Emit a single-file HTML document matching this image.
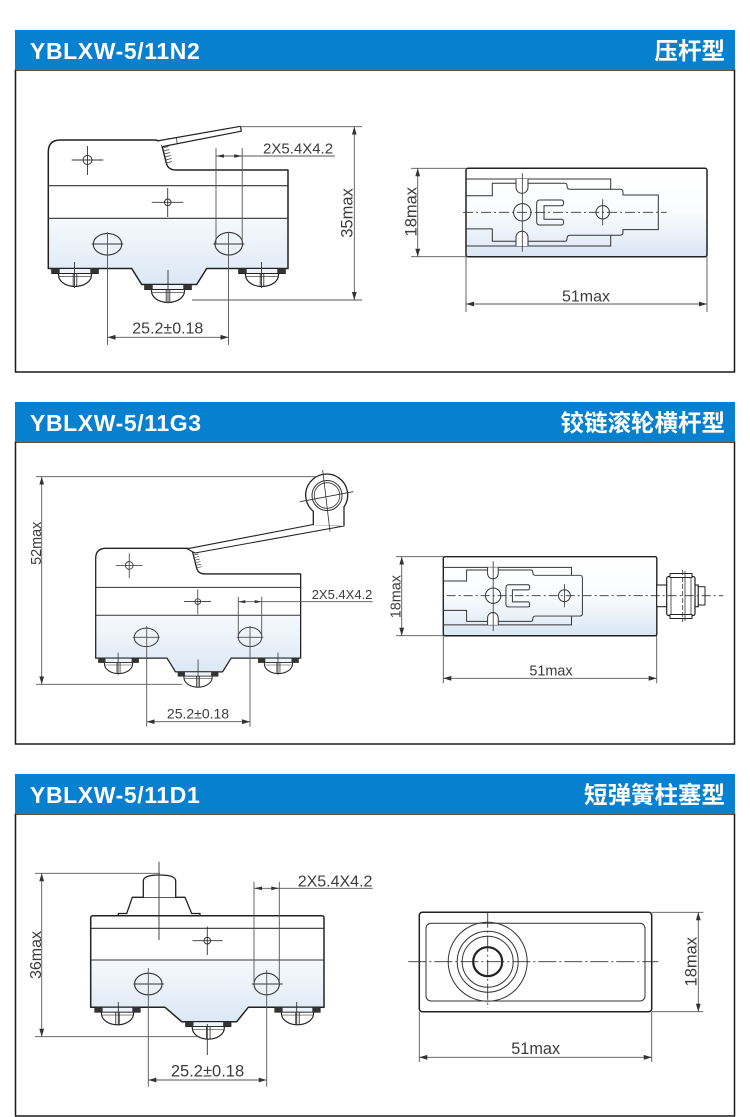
<!DOCTYPE html>
<html><head><meta charset="utf-8"><title>YBLXW-5/11</title>
<style>html,body{margin:0;padding:0;background:#fff;width:750px;height:1117px;overflow:hidden}svg{display:block}</style>
</head><body>
<svg xmlns="http://www.w3.org/2000/svg" width="750" height="1117" viewBox="0 0 750 1117">
<defs>
<linearGradient id="gb" x1="0" y1="0" x2="0" y2="1"><stop offset="0" stop-color="#f6f9fd"/><stop offset="1" stop-color="#dce8f5"/></linearGradient>
<linearGradient id="gr" x1="0" y1="0" x2="0" y2="1"><stop offset="0" stop-color="#ffffff"/><stop offset="0.5" stop-color="#fafcfe"/><stop offset="1" stop-color="#d9e6f4"/></linearGradient>
<marker id="a" viewBox="0 0 8 6" refX="8" refY="3" markerWidth="8" markerHeight="6" markerUnits="userSpaceOnUse" orient="auto-start-reverse"><path d="M0,0.6 L8,3 L0,5.4 Z" fill="#333"/></marker>
<g id="term">
<path d="M-16.5,5 V6.5 A16.5,11.5 0 0 0 16.5,6.5 V5" fill="#fff" stroke="#222" stroke-width="1.2"/>
<line x1="-16.5" y1="8" x2="16.5" y2="8" stroke="#444" stroke-width="0.7"/>
<path d="M-1.8,5 V18 M1.8,5 V18" stroke="#333" stroke-width="0.9" fill="none"/>
<rect x="-23.3" y="0" width="46.6" height="5" fill="#eef4fa" stroke="#222" stroke-width="1"/>
<rect x="-23.3" y="0" width="8" height="5" fill="#333"/>
<rect x="15.3" y="0" width="8" height="5" fill="#333"/>
</g>
<g id="body1">
<path d="M48.3,218.3 H288 V268.5 H206.7 L196.7,284.5 H141.7 L131.7,268.5 H48.3 Z" fill="url(#gb)"/>
<path d="M48.3,268.5 V152 Q48.3,140 60.3,140 H155 Q160,140 161.8,145 L166.3,163 Q168,170 176,170 H288 V268.5 H206.7 L196.7,284.5 H141.7 L131.7,268.5 Z" fill="none" stroke="#222" stroke-width="1.5" stroke-linejoin="round"/>
<path d="M48.3,185.7 H288 M48.3,218.3 H288" stroke="#333" stroke-width="1.1" fill="none"/>
<path d="M162.5,148 l6,-1.5 M163.3,151 l6,-1.5 M164,154 l6,-1.5 M164.8,157 l6,-1.5 M165.5,160 l6,-1.5 M166.2,163 l6,-1.5" stroke="#444" stroke-width="0.8" fill="none"/>
<circle cx="87.5" cy="160" r="4.5" fill="none" stroke="#333" stroke-width="1"/>
<path d="M71.7,160 H103.3 M87.5,146 V175" stroke="#333" stroke-width="0.9" fill="none"/>
<circle cx="167.7" cy="202.3" r="3.3" fill="none" stroke="#333" stroke-width="1"/>
<path d="M151.7,202.3 H183.3 M167.7,188 V217" stroke="#333" stroke-width="0.9" fill="none"/>
<ellipse cx="107.5" cy="244.2" rx="14.2" ry="10.8" fill="none" stroke="#333" stroke-width="1.1"/>
<ellipse cx="228.8" cy="243.7" rx="13.8" ry="11.3" fill="none" stroke="#333" stroke-width="1.1"/>
<path d="M91.7,244 H123.3 M213.3,244 H244.3" stroke="#333" stroke-width="0.9" fill="none"/>
<use href="#term" transform="translate(75,268.5)"/>
<use href="#term" transform="translate(168,284.5)"/>
<use href="#term" transform="translate(262,268.5)"/>
<path d="M74.5,262 V288 M168,270 V303 M261.5,262 V288" stroke="#333" stroke-width="0.9" fill="none"/>
</g>
</defs>

<!-- ===== PANEL 1 ===== -->
<rect x="15.5" y="70" width="719" height="302" fill="none" stroke="#1a1a1a" stroke-width="1.5"/>
<rect x="15" y="30" width="720" height="40" fill="#0780d0"/>
<text x="30" y="59" fill="#fff" font-family="Liberation Sans, sans-serif" font-weight="bold" font-size="23" letter-spacing="0.6">YBLXW-5/11N2</text>
<text x="725" y="59" fill="#fff" text-anchor="end" font-family="Liberation Sans, Noto Sans CJK SC, sans-serif" font-weight="bold" font-size="23.5">压杆型</text>

<use href="#body1"/>
<path d="M157,141 L240.5,126.3 L241.3,131.2 L163,146.5" fill="#fff" stroke="#222" stroke-width="1.2" stroke-linejoin="round"/>
<line x1="176.5" y1="137.5" x2="177" y2="143" stroke="#333" stroke-width="0.8"/>

<g stroke="#555" stroke-width="0.9" fill="none">
<path d="M216,148 V244 M242.2,148 V244 M228.5,232 V345 M107.5,232 V345"/>
<path d="M216,156 H335"/>
<path d="M240,126.7 H362 M192,300 H362"/>
<line x1="354.3" y1="126.7" x2="354.3" y2="300" marker-start="url(#a)" marker-end="url(#a)"/>
<line x1="107.5" y1="337.3" x2="228.5" y2="337.3" marker-start="url(#a)" marker-end="url(#a)"/>
</g>
<path d="M216,156 L224,154.2 L224,157.8 Z M242.2,156 L234.2,154.2 L234.2,157.8 Z" fill="#333"/>
<g font-family="Liberation Sans, sans-serif" fill="#3c3c3c">
<text x="263" y="153.5" font-size="15">2X5.4X4.2</text>
<text x="167.8" y="333.3" font-size="16" text-anchor="middle">25.2±0.18</text>
<text transform="translate(352.5,213) rotate(-90)" font-size="16.5" text-anchor="middle">35max</text>
<text transform="translate(416.5,211.7) rotate(-90)" font-size="16.5" text-anchor="middle">18max</text>
<text x="586" y="301.5" font-size="16" text-anchor="middle">51max</text>
</g>

<g transform="translate(466,168.3)">
<rect x="0" y="0" width="241" height="88.4" rx="2" fill="url(#gr)" stroke="#222" stroke-width="1.5"/>
<path d="M0,10.7 H144.7 V21 M0,77.7 H144.7 V67" fill="none" stroke="#333" stroke-width="1"/>
<path d="M0,27.4 H26.3 V15 H99 Q101,15 101,17.5 Q101,21 104,21 H154 Q157,21 157,24 V26.7 H192.3 V61.3 H157 V64 Q157,67 154,67 H104 Q101,67 101,70.5 Q101,73 99,73 H26.3 V60.6 H0" fill="none" stroke="#333" stroke-width="1"/>
<path d="M50,10.7 V19 A6,6 0 0 0 62,19 V10.7" fill="#fff" stroke="#333" stroke-width="1"/>
<path d="M50,77.7 V69 A6,6 0 0 1 62,69 V77.7" fill="#fff" stroke="#333" stroke-width="1"/>
<circle cx="56.3" cy="44" r="8.7" fill="none" stroke="#333" stroke-width="1"/>
<path d="M95.7,31.7 H74 Q70.7,31.7 70.7,35 V53.4 Q70.7,56.7 74,56.7 H95.7 Q97.5,56.7 97.5,53.9 Q97.5,51 95.7,51 H78 V37.4 H95.7 Q97.5,37.4 97.5,34.5 Q97.5,31.7 95.7,31.7 Z" fill="none" stroke="#333" stroke-width="1"/>
<circle cx="136.7" cy="44" r="6.7" fill="none" stroke="#333" stroke-width="1"/>
<line x1="-3" y1="44" x2="200.7" y2="44" stroke="#333" stroke-width="0.8" stroke-dasharray="10 3 2 3"/>
<path d="M56.3,5 V83.4 M136.7,31 V57" stroke="#333" stroke-width="0.8" fill="none"/>
</g>
<g stroke="#555" stroke-width="0.9" fill="none">
<path d="M411,168.3 H466 M411,256.7 H466 M466,256.7 V312 M707,256.7 V312"/>
<line x1="417.7" y1="168.3" x2="417.7" y2="256.7" marker-start="url(#a)" marker-end="url(#a)"/>
<line x1="466" y1="304" x2="707" y2="304" marker-start="url(#a)" marker-end="url(#a)"/>
</g>

<!-- ===== PANEL 2 ===== -->
<rect x="15.5" y="442" width="719" height="302" fill="none" stroke="#1a1a1a" stroke-width="1.5"/>
<rect x="15" y="402" width="720" height="40" fill="#0780d0"/>
<text x="30" y="431" fill="#fff" font-family="Liberation Sans, sans-serif" font-weight="bold" font-size="23" letter-spacing="0.6">YBLXW-5/11G3</text>
<text x="725" y="431" fill="#fff" text-anchor="end" font-family="Liberation Sans, Noto Sans CJK SC, sans-serif" font-weight="bold" font-size="23.5">铰链滚轮横杆型</text>

<use href="#body1" transform="translate(54.4,428.6) scale(0.855)"/>
<path d="M187,548.8 L313.3,524.5 L344,526 L195,553 Z" fill="#fff" stroke="#222" stroke-width="1.1" stroke-linejoin="round"/>
<path d="M313.3,525 V511.2 A21,21 0 1 1 344,506.9 V526" fill="#fff" stroke="#222" stroke-width="1.3"/>
<circle cx="327" cy="495.5" r="15" fill="none" stroke="#333" stroke-width="1"/>
<circle cx="327" cy="495.5" r="12.8" fill="none" stroke="#333" stroke-width="0.8"/>
<path d="M300,501.7 L353.3,491.7 M322.7,470 L330,531.7" stroke="#333" stroke-width="0.8" fill="none"/>

<g stroke="#555" stroke-width="0.9" fill="none">
<path d="M36,476.7 H318 M36,684.3 H182"/>
<line x1="41.7" y1="476.7" x2="41.7" y2="684.3" marker-start="url(#a)" marker-end="url(#a)"/>
<path d="M238.3,596.7 V636 M261.7,596.7 V636 M250,626 V726.7 M146.7,626 V726.7"/>
<path d="M238.3,601.7 H372.7"/>
<line x1="146.7" y1="721.7" x2="250" y2="721.7" marker-start="url(#a)" marker-end="url(#a)"/>
</g>
<path d="M238.3,601.7 L245.3,600.1 L245.3,603.3 Z M261.7,601.7 L254.7,600.1 L254.7,603.3 Z" fill="#333"/>

<g transform="translate(443.3,556.7) scale(0.886)">
<rect x="0" y="0" width="241" height="89.2" rx="2" fill="url(#gr)" stroke="#222" stroke-width="1.6"/>
<path d="M0,12 H144.7 V21 M0,77 H144.7 V67" fill="none" stroke="#333" stroke-width="1.1"/>
<path d="M0,27.4 H26.3 V15 H99 Q101,15 101,17.5 Q101,21 104,21 H154 Q157,21 157,24 V64 Q157,67 154,67 H104 Q101,67 101,70.5 Q101,73 99,73 H26.3 V60.6 H0" fill="none" stroke="#333" stroke-width="1.1"/>
<path d="M50,12 V19 A6,6 0 0 0 62,19 V12" fill="#fff" stroke="#333" stroke-width="1.1"/>
<path d="M50,77 V69 A6,6 0 0 1 62,69 V77" fill="#fff" stroke="#333" stroke-width="1.1"/>
<circle cx="56.3" cy="44" r="8.7" fill="none" stroke="#333" stroke-width="1.1"/>
<path d="M95.7,31.7 H74 Q70.7,31.7 70.7,35 V53.4 Q70.7,56.7 74,56.7 H95.7 Q97.5,56.7 97.5,53.9 Q97.5,51 95.7,51 H78 V37.4 H95.7 Q97.5,37.4 97.5,34.5 Q97.5,31.7 95.7,31.7 Z" fill="none" stroke="#333" stroke-width="1.1"/>
<circle cx="136.7" cy="44" r="6.7" fill="none" stroke="#333" stroke-width="1.1"/>
<path d="M56.3,5 V84 M136.7,31 V57" stroke="#333" stroke-width="0.9" fill="none"/>
</g>
<!-- roller side -->
<rect x="656.7" y="585" width="41.6" height="21.7" fill="#fff" stroke="#222" stroke-width="1.1"/>
<rect x="698.3" y="586.7" width="6.7" height="18.3" fill="#fff" stroke="#222" stroke-width="1"/>
<rect x="666.7" y="576.5" width="28.3" height="39" rx="2" fill="#fff" stroke="#222" stroke-width="1.2"/>
<rect x="670" y="573.5" width="22" height="4" fill="#fff" stroke="#222" stroke-width="1"/>
<rect x="670" y="614.5" width="22" height="4" fill="#fff" stroke="#222" stroke-width="1"/>
<path d="M671,577 V615 M691,577 V615 M685,571 V621" stroke="#333" stroke-width="0.8" fill="none"/>
<line x1="682.7" y1="570" x2="682.7" y2="622" stroke="#333" stroke-width="0.8" stroke-dasharray="5 2"/>
<line x1="446.7" y1="595.7" x2="723.3" y2="595.7" stroke="#333" stroke-width="0.8" stroke-dasharray="9 3 2 3"/>

<g stroke="#555" stroke-width="0.9" fill="none">
<path d="M396,556.7 H443.3 M396,635.7 H443.3 M443.3,635.7 V683.3 M656.7,635.7 V683.3"/>
<line x1="401.7" y1="556.7" x2="401.7" y2="635.7" marker-start="url(#a)" marker-end="url(#a)"/>
<line x1="443.3" y1="678.3" x2="656.7" y2="678.3" marker-start="url(#a)" marker-end="url(#a)"/>
</g>
<g font-family="Liberation Sans, sans-serif" fill="#3c3c3c">
<text transform="translate(41,543.3) rotate(-90)" font-size="14.4" text-anchor="middle">52max</text>
<text x="311.7" y="599" font-size="13">2X5.4X4.2</text>
<text x="198" y="718.3" font-size="14" text-anchor="middle">25.2±0.18</text>
<text transform="translate(400.5,596.7) rotate(-90)" font-size="14.4" text-anchor="middle">18max</text>
<text x="551" y="675.5" font-size="14.4" text-anchor="middle">51max</text>
</g>

<!-- ===== PANEL 3 ===== -->
<rect x="15.5" y="814" width="719" height="302" fill="none" stroke="#1a1a1a" stroke-width="1.5"/>
<rect x="15" y="774" width="720" height="40" fill="#0780d0"/>
<text x="30" y="803" fill="#fff" font-family="Liberation Sans, sans-serif" font-weight="bold" font-size="23" letter-spacing="0.6">YBLXW-5/11D1</text>
<text x="725" y="803" fill="#fff" text-anchor="end" font-family="Liberation Sans, Noto Sans CJK SC, sans-serif" font-weight="bold" font-size="23.5">短弹簧柱塞型</text>

<path d="M90.7,960 H324 V1007.3 H248.3 L236.7,1021.7 H181.7 L165,1007.3 H90.7 Z" fill="url(#gb)"/>
<path d="M118.3,915.7 V913.5 H126.7 L132.3,897.3 H185 L191.7,913.5 H200 V915.7" fill="#fff" stroke="#222" stroke-width="1.3" stroke-linejoin="round"/>
<path d="M143.3,897.3 V881 Q143.3,875 159.5,875 Q175.7,875 175.7,881 V897.3" fill="#fff" stroke="#222" stroke-width="1.3"/>
<path d="M90.7,1007.3 V918 Q90.7,915.7 93,915.7 H321.7 Q324,915.7 324,918 V1007.3 H248.3 L236.7,1021.7 H181.7 L165,1007.3 Z" fill="none" stroke="#222" stroke-width="1.5" stroke-linejoin="round"/>
<path d="M90.7,928.3 H324 M90.7,960 H324" stroke="#333" stroke-width="1.1" fill="none"/>
<line x1="159" y1="861.7" x2="159" y2="940" stroke="#333" stroke-width="0.9"/>
<circle cx="207.3" cy="940.7" r="3.3" fill="none" stroke="#333" stroke-width="1"/>
<path d="M192.5,940.7 H222.7 M207.3,926.5 V955" stroke="#333" stroke-width="0.9" fill="none"/>
<ellipse cx="148.3" cy="984" rx="13.7" ry="10.8" fill="none" stroke="#333" stroke-width="1.1"/>
<ellipse cx="266.7" cy="984" rx="12.7" ry="10.8" fill="none" stroke="#333" stroke-width="1.1"/>
<path d="M133.3,984 H164 M251.7,984 H282.7" stroke="#333" stroke-width="0.9" fill="none"/>
<use href="#term" transform="translate(117.5,1007.3) scale(0.97)"/>
<use href="#term" transform="translate(208.3,1021.7) scale(0.97)"/>
<use href="#term" transform="translate(297.5,1007.3) scale(0.97)"/>
<path d="M118.3,1002 V1024 M207.3,1024 V1055 M296.7,1002 V1024" stroke="#333" stroke-width="0.9" fill="none"/>

<g stroke="#555" stroke-width="0.9" fill="none">
<path d="M35,873.3 H160 M35,1036.7 H200"/>
<line x1="41.7" y1="873.3" x2="41.7" y2="1036.7" marker-start="url(#a)" marker-end="url(#a)"/>
<path d="M254,881.7 V984 M279.3,881.7 V984 M148.3,968 V1086.7 M266.7,970 V1086.7"/>
<path d="M254,888.3 H372.7"/>
<line x1="148.3" y1="1080" x2="266.7" y2="1080" marker-start="url(#a)" marker-end="url(#a)"/>
</g>
<path d="M254,888.3 L262,886.5 L262,890.1 Z M279.3,888.3 L271.3,886.5 L271.3,890.1 Z" fill="#333"/>

<rect x="419.3" y="912.3" width="232.4" height="99.4" rx="3" fill="#fff" stroke="#222" stroke-width="1.5"/>
<rect x="426" y="923.3" width="219" height="77.7" rx="5" fill="none" stroke="#333" stroke-width="1"/>
<circle cx="487.7" cy="961.7" r="39.5" fill="none" stroke="#333" stroke-width="1"/>
<circle cx="487.7" cy="961.7" r="30.5" fill="none" stroke="#333" stroke-width="1"/>
<circle cx="487.7" cy="961.7" r="25.5" fill="none" stroke="#333" stroke-width="1"/>
<circle cx="487.7" cy="961.7" r="14.5" fill="none" stroke="#222" stroke-width="2.2"/>
<line x1="408.3" y1="961.7" x2="658.3" y2="961.7" stroke="#333" stroke-width="0.9" stroke-dasharray="18 3 2 3"/>
<line x1="487.7" y1="911.7" x2="487.7" y2="1008" stroke="#333" stroke-width="0.9" stroke-dasharray="16 3 2 3"/>
<g stroke="#555" stroke-width="0.9" fill="none">
<path d="M651.7,912.3 H703.3 M651.7,1011.7 H703.3 M419.3,1011.7 V1062 M651.7,1011.7 V1062"/>
<line x1="698.3" y1="912.3" x2="698.3" y2="1011.7" marker-start="url(#a)" marker-end="url(#a)"/>
<line x1="419.3" y1="1057.3" x2="651.7" y2="1057.3" marker-start="url(#a)" marker-end="url(#a)"/>
</g>
<g font-family="Liberation Sans, sans-serif" fill="#3c3c3c">
<text transform="translate(41,955) rotate(-90)" font-size="16" text-anchor="middle">36max</text>
<text x="297.7" y="886.3" font-size="16">2X5.4X4.2</text>
<text x="207.5" y="1076.5" font-size="16.5" text-anchor="middle">25.2±0.18</text>
<text transform="translate(696.3,961.7) rotate(-90)" font-size="16.5" text-anchor="middle">18max</text>
<text x="535.7" y="1054" font-size="16.3" text-anchor="middle">51max</text>
</g>
</svg>
</body></html>
